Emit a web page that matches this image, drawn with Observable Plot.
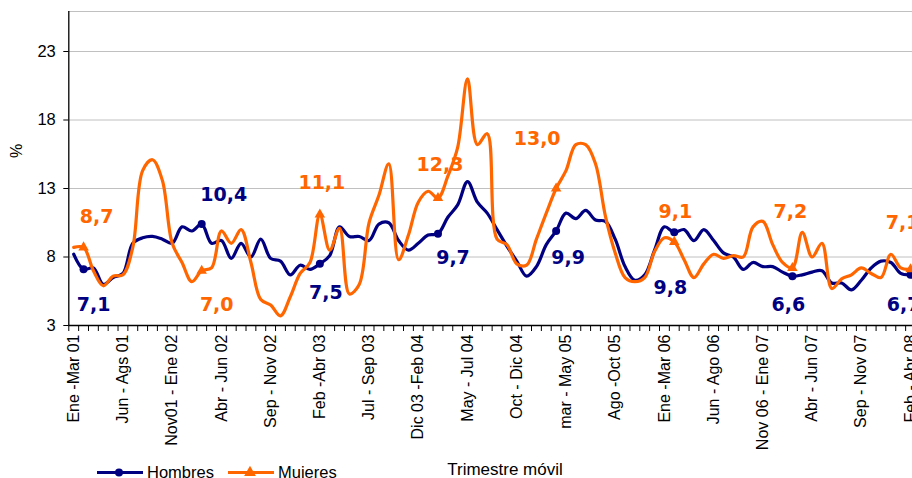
<!DOCTYPE html>
<html>
<head>
<meta charset="utf-8">
<script src="https://cdn.jsdelivr.net/npm/d3@7"></script>
<script src="https://cdn.jsdelivr.net/npm/@observablehq/plot@0.6"></script>
<style>
  body { margin: 0; background: #fff; }
  #chart { position: relative; width: 912px; height: 478px; overflow: hidden; }
</style>
</head>
<body>
<div id="chart"></div>
<script>
// ---- Data ----
const hombres = [
  8.2, 7.1, 7.2, 6.0, 6.5, 6.8, 9.0, 9.4, 9.5, 9.3,
  9.0, 10.2, 9.9, 10.4, 9.0, 9.2, 7.9, 9.0, 8.0, 9.3,
  7.9, 7.7, 6.7, 7.4, 7.1, 7.5, 8.1, 10.2, 9.5, 9.5,
  9.2, 10.4, 10.5, 9.2, 8.5, 9.0, 9.6, 9.7, 10.9, 11.8,
  13.5, 12.0, 11.2, 10.0, 8.8, 7.7, 6.6, 7.3, 8.9, 9.9,
  11.2, 10.8, 11.4, 10.7, 10.6, 9.3, 7.3, 6.3, 6.7, 8.5,
  10.2, 9.8, 10.0, 9.2, 10.0, 9.2, 8.3, 8.0, 7.1, 7.6,
  7.3, 7.3, 6.9, 6.6, 6.7, 6.9, 7.0, 6.1, 6.1, 5.6,
  6.3, 7.2, 7.7, 7.6, 6.8, 6.7, 6.8
];
const mujeres = [
  8.7, 8.7, 7.0, 5.9, 6.6, 6.7, 8.7, 14.3, 15.1, 13.6,
  9.0, 7.6, 6.2, 7.0, 7.2, 9.9, 9.0, 10.0, 7.6, 4.9,
  4.5, 3.7, 5.1, 6.8, 7.6, 11.1, 8.5, 10.1, 5.3, 6.0,
  10.5, 12.5, 14.8, 7.8, 9.6, 12.0, 12.8, 12.3, 13.9, 16.0,
  21.0, 16.2, 17.0, 9.3, 8.9, 7.5, 7.4, 9.3, 11.2, 13.0,
  14.3, 16.2, 16.2, 14.8, 11.0, 8.3, 6.5, 6.2, 6.5, 8.4,
  9.4, 9.1, 7.8, 6.5, 7.5, 8.2, 7.9, 8.1, 8.0, 10.2,
  10.6, 8.9, 7.6, 7.2, 9.8, 8.0, 9.0, 5.7, 6.4, 6.7,
  7.2, 6.8, 6.5, 8.2, 7.2, 7.1, 7.3
];
const tickLabels = [
  "Ene -Mar 01", "Jun - Ags 01", "Nov01 - Ene 02", "Abr - Jun 02",
  "Sep - Nov 02", "Feb -Abr 03", "Jul - Sep 03", "Dic 03 -Feb 04",
  "May - Jul 04", "Oct - Dic 04", "mar - May 05", "Ago -Oct 05",
  "Ene -Mar 06", "Jun - Ago 06", "Nov 06 - Ene 07", "Abr - Jun 07",
  "Sep - Nov 07", "Feb - Abr 08"
];
const markerIdx = [1, 13, 25, 37, 49, 61, 73, 85];
const yTicks = [3, 8, 13, 18, 23];
const seriesNames = ["Hombres", "Mujeres"];
const xTitle = "Trimestre móvil";
const yTitle = "%";

(function () {
// ---- Layout / style ----
const W = 912, H = 478;
const mLeft = 68.3, mTop = 11, yBottom = 325;
const step = 9.845;
const yMin = 3, yMax = 25.92;
const xMax = -0.5 + (W - mLeft) / step;
const NAVY = "#000080", ORANGE = "#FF6600";
const GRID = "#c0c0c0";
const labelFont = "'DejaVu Sans', sans-serif";
const axisFont = "'Liberation Sans', Arial, sans-serif";

// label offsets (px) relative to marker, per label
const hOff = [[10,36],[22,-29],[6,29],[15,24],[12,27],[-4,56],[-4,29],[-7,30]];
const mOff = [[13,-31],[15,34],[2,-32],[2,-33],[-19,-50],[1,-30],[-2,-56],[-8,-46]];

const hData = hombres.map((v, i) => ({i, v}));
const mData = mujeres.map((v, i) => ({i, v}));
const hMarks = markerIdx.map(i => hData[i]);
const mMarks = markerIdx.map(i => mData[i]);
const fmt = v => v.toFixed(1).replace(".", ",");

const labelMarks = (rows, offs, color) => rows.map((r, k) =>
  Plot.text([r], {
    x: "i", y: "v", text: d => fmt(d.v),
    dx: offs[k][0], dy: offs[k][1],
    fill: color, fontSize: 19, fontWeight: "bold", fontFamily: labelFont,
    textAnchor: "middle", lineAnchor: "middle"
  })
);

const plot = Plot.plot({
  width: W, height: H,
  marginLeft: mLeft, marginRight: 0, marginTop: mTop, marginBottom: H - yBottom,
  style: {fontFamily: axisFont, background: "white", color: "black"},
  x: {domain: [-0.5, xMax], axis: null},
  y: {domain: [yMin, yMax], axis: null},
  marks: [
    Plot.ruleY(yTicks.slice(1), {stroke: GRID, strokeWidth: 1}),
    Plot.ruleY([yMax], {stroke: GRID, strokeWidth: 1}),
    Plot.axisY({ticks: yTicks, tickSize: 5, tickPadding: 8, fontSize: 16.5, label: null,
      tickFormat: d => String(d), stroke: "black"}),
    Plot.axisX(d3.range(-0.5, xMax, 1), {tickSize: 6, tickFormat: () => "", label: null, stroke: "black"}),
    Plot.axisX({ticks: d3.range(0, tickLabels.length * 5, 5), tickFormat: i => tickLabels[i / 5],
      tickRotate: -90, tickSize: 0, tickPadding: 9, fontSize: 16, label: null}),
    Plot.ruleX([-0.5], {stroke: "black", strokeWidth: 1.3}),
    Plot.ruleY([yMin], {stroke: "black", strokeWidth: 1.3}),
    Plot.line(hData, {x: "i", y: "v", stroke: NAVY, strokeWidth: 3.2, curve: "catmull-rom"}),
    Plot.line(mData, {x: "i", y: "v", stroke: ORANGE, strokeWidth: 3.2, curve: "catmull-rom"}),
    Plot.dot(hMarks, {x: "i", y: "v", r: 4, fill: NAVY, symbol: "circle"}),
    Plot.dot(mMarks, {x: "i", y: "v", r: 3.9, fill: ORANGE, symbol: "triangle"}),
    ...labelMarks(hMarks, hOff, NAVY),
    ...labelMarks(mMarks, mOff, ORANGE)
  ]
});

// ---- Titles and legend ----
const svg = d3.select(plot);
svg.append("text")
  .attr("transform", "translate(22,151) rotate(-90)")
  .attr("text-anchor", "middle")
  .attr("font-family", axisFont).attr("font-size", 16).attr("fill", "black")
  .text(yTitle);
svg.append("text")
  .attr("x", 505).attr("y", 475)
  .attr("text-anchor", "middle")
  .attr("font-family", axisFont).attr("font-size", 17).attr("fill", "black")
  .text(xTitle);

const legend = svg.append("g");
const items = [
  {name: seriesNames[0], color: NAVY, x0: 97, sym: d3.symbolCircle, size: 50},
  {name: seriesNames[1], color: ORANGE, x0: 228, sym: d3.symbolTriangle, size: 60}
];
items.forEach(it => {
  legend.append("line").attr("x1", it.x0).attr("x2", it.x0 + 46)
    .attr("y1", 472.5).attr("y2", 472.5).attr("stroke", it.color).attr("stroke-width", 3);
  legend.append("path").attr("d", d3.symbol(it.sym, it.size)())
    .attr("transform", `translate(${it.x0 + 22},472.5)`).attr("fill", it.color);
  legend.append("text").attr("x", it.x0 + 50).attr("y", 477.5)
    .attr("text-anchor", "start")
    .attr("font-family", axisFont).attr("font-size", 16.5).attr("fill", "black")
    .text(it.name);
});

document.getElementById("chart").appendChild(plot);
})();
</script>
</body>
</html>
